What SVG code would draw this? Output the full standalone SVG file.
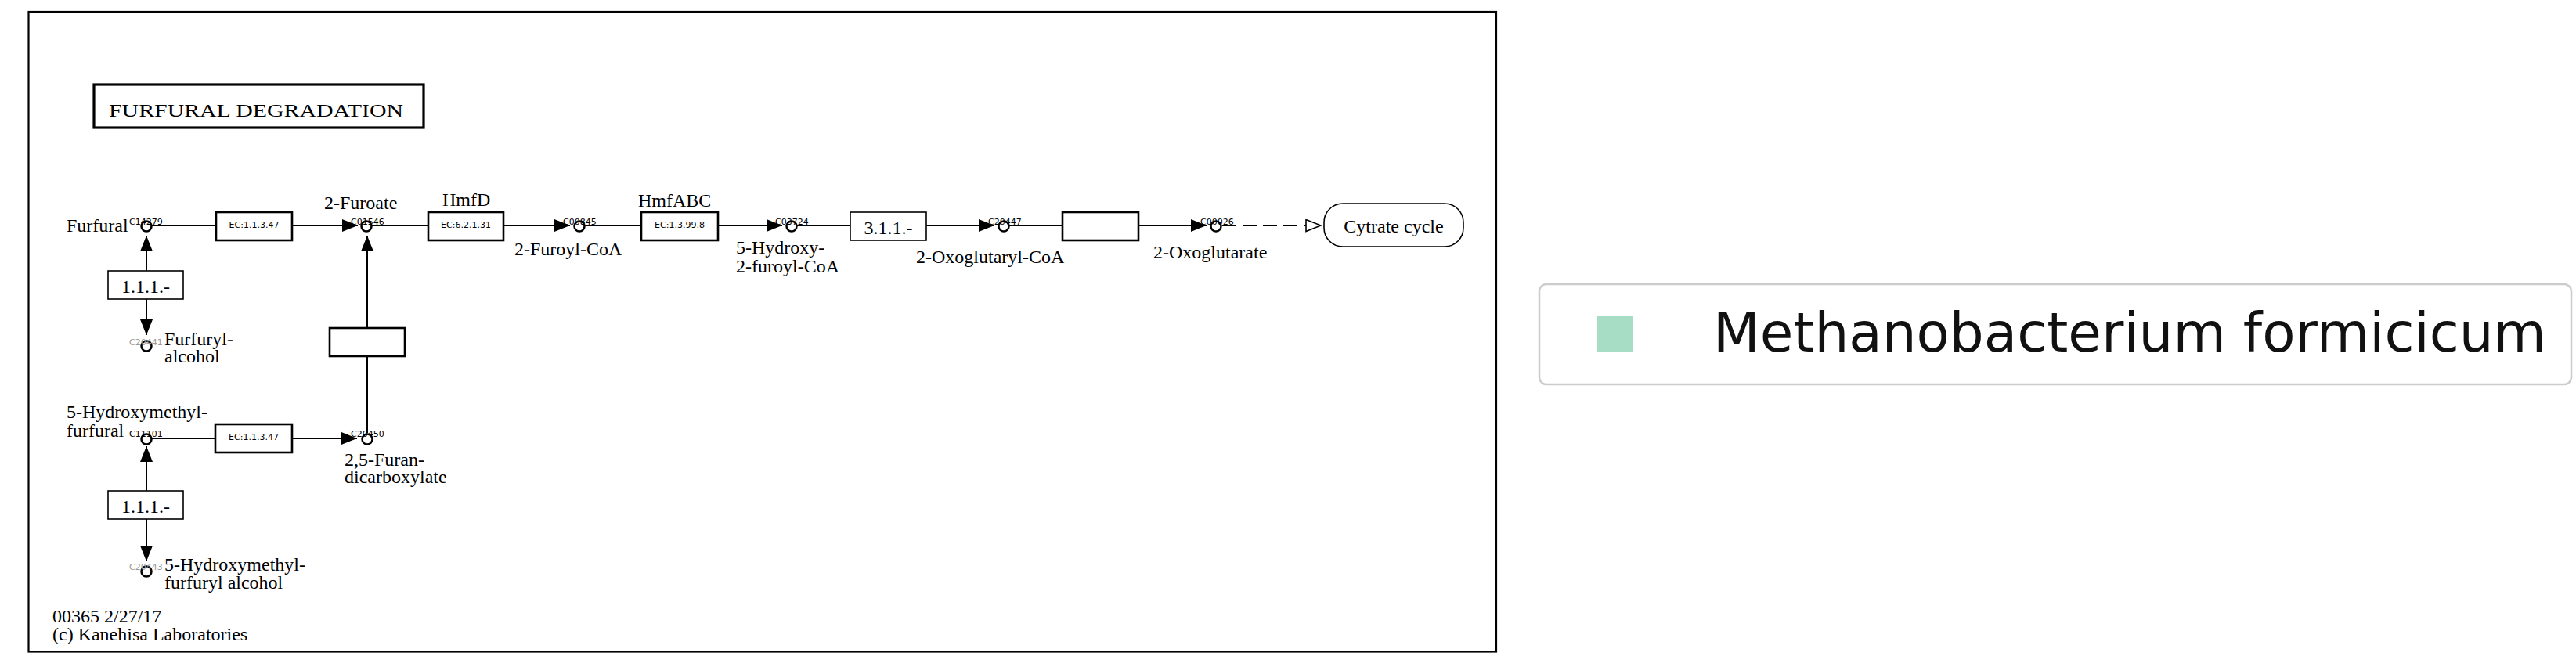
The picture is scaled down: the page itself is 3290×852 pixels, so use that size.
<svg xmlns="http://www.w3.org/2000/svg" width="3290" height="852" viewBox="0 0 3290 852">
<style>
.t{font-family:"Liberation Serif","Times New Roman",serif;font-size:24px;fill:#000}
.c{font-family:"DejaVu Sans",sans-serif;font-size:11px;fill:#000}
.cg{fill:#9a9a9a}
.ec{font-family:"DejaVu Sans",sans-serif;font-size:11px;fill:#000;text-anchor:middle}
.cpd{fill:#fff;stroke:#000;stroke-width:2.5}
.enz{fill:#fff;stroke:#000;stroke-width:2.6}
.enz2{fill:#fff;stroke:#000;stroke-width:1.6}
.ln{stroke:#000;stroke-width:2;fill:none}
.dash{stroke:#000;stroke-width:2;fill:none;stroke-dasharray:18 8}
</style>
<defs>
<marker id="ah" markerUnits="userSpaceOnUse" markerWidth="20" markerHeight="16" viewBox="0 0 20 16" refX="20" refY="8" orient="auto">
<path d="M0,0 L20,8 L0,16 Z" fill="#000"/>
</marker>
<marker id="oah" markerUnits="userSpaceOnUse" markerWidth="22" markerHeight="18" viewBox="-1 -1 22 18" refX="19" refY="7.5" orient="auto">
<path d="M0,0 L19,7.5 L0,15 Z" fill="#fff" stroke="#000" stroke-width="1.6"/>
</marker>
</defs>
<rect width="3290" height="852" fill="#fff"/>
<rect id="frame" x="36.5" y="15" width="1874.5" height="817.5" fill="none" stroke="#000" stroke-width="2.2"/>

<g id="title">
<rect x="120" y="108" width="421" height="55" fill="#fff" stroke="#000" stroke-width="3.2"/>
<text class="t" x="139" y="149" font-size="30" textLength="376" lengthAdjust="spacingAndGlyphs">FURFURAL DEGRADATION</text>
</g>

<g id="connectors">
<line class="ln" x1="194" y1="288" x2="276" y2="288"/>
<line class="ln" x1="373" y1="288" x2="457" y2="288" marker-end="url(#ah)"/>
<line class="ln" x1="475" y1="288" x2="547" y2="288"/>
<line class="ln" x1="643" y1="288" x2="728" y2="288" marker-end="url(#ah)"/>
<line class="ln" x1="747" y1="288" x2="819" y2="288"/>
<line class="ln" x1="917" y1="288" x2="999" y2="288" marker-end="url(#ah)"/>
<line class="ln" x1="1018" y1="288" x2="1086" y2="288"/>
<line class="ln" x1="1183" y1="288" x2="1270" y2="288" marker-end="url(#ah)"/>
<line class="ln" x1="1289" y1="288" x2="1357" y2="288"/>
<line class="ln" x1="1454" y1="288" x2="1541" y2="288" marker-end="url(#ah)"/>
<line class="dash" x1="1561" y1="288" x2="1687" y2="288" marker-end="url(#oah)"/>
<line class="ln" x1="187" y1="346" x2="187" y2="301" marker-end="url(#ah)"/>
<line class="ln" x1="187" y1="382" x2="187" y2="428" marker-end="url(#ah)"/>
<line class="ln" x1="469" y1="419" x2="469" y2="301" marker-end="url(#ah)"/>
<line class="ln" x1="469" y1="553" x2="469" y2="455"/>
<line class="ln" x1="194" y1="560" x2="275" y2="560"/>
<line class="ln" x1="373" y1="560" x2="456" y2="560" marker-end="url(#ah)"/>
<line class="ln" x1="187" y1="627" x2="187" y2="570" marker-end="url(#ah)"/>
<line class="ln" x1="187" y1="663" x2="187" y2="717" marker-end="url(#ah)"/>
</g>

<g id="enz_1_1_3_47_a">
<rect class="enz" x="276" y="271" width="97" height="36"/>
<text class="ec" x="324.5" y="291">EC:1.1.3.47</text>
</g>
<g id="enz_6_2_1_31">
<text class="t" x="565" y="263">HmfD</text>
<rect class="enz" x="547" y="271" width="96" height="36"/>
<text class="ec" x="595" y="291">EC:6.2.1.31</text>
</g>
<g id="enz_1_3_99_8">
<text class="t" x="815" y="264">HmfABC</text>
<rect class="enz" x="819" y="271" width="98" height="36"/>
<text class="ec" x="868" y="291">EC:1.3.99.8</text>
</g>
<g id="enz_3_1_1">
<rect class="enz2" x="1086" y="271" width="97" height="36"/>
<text class="t" x="1134.5" y="299" text-anchor="middle">3.1.1.-</text>
</g>
<g id="enz_blank_a">
<rect class="enz" x="1357" y="271" width="97" height="36"/>
</g>
<g id="enz_1_1_1_a">
<rect class="enz2" x="138" y="346" width="96" height="36"/>
<text class="t" x="186" y="374" text-anchor="middle">1.1.1.-</text>
</g>
<g id="enz_blank_b">
<rect class="enz" x="421" y="419" width="96" height="36"/>
</g>
<g id="enz_1_1_3_47_b">
<rect class="enz" x="275" y="542" width="98" height="36"/>
<text class="ec" x="324" y="562">EC:1.1.3.47</text>
</g>
<g id="enz_1_1_1_b">
<rect class="enz2" x="138" y="627" width="96" height="36"/>
<text class="t" x="186" y="655" text-anchor="middle">1.1.1.-</text>
</g>

<g id="C14279">
<circle class="cpd" cx="187" cy="289" r="6.5"/>
<text class="c" x="165" y="287">C14279</text>
<text class="t" x="85" y="296">Furfural</text>
</g>
<g id="C01546">
<circle class="cpd" cx="468" cy="289" r="6.5"/>
<text class="c" x="448" y="287">C01546</text>
<text class="t" x="414" y="267">2-Furoate</text>
</g>
<g id="C00845">
<circle class="cpd" cx="740" cy="289" r="6.5"/>
<text class="c" x="719" y="287">C00845</text>
<text class="t" x="657" y="326">2-Furoyl-CoA</text>
</g>
<g id="C03724">
<circle class="cpd" cx="1011" cy="289" r="6.5"/>
<text class="c" x="990" y="287">C03724</text>
<text class="t" x="940" y="324">5-Hydroxy-</text>
<text class="t" x="940" y="348">2-furoyl-CoA</text>
</g>
<g id="C20447">
<circle class="cpd" cx="1282" cy="289" r="6.5"/>
<text class="c" x="1262" y="287">C20447</text>
<text class="t" x="1170" y="336">2-Oxoglutaryl-CoA</text>
</g>
<g id="C00026">
<circle class="cpd" cx="1553" cy="289" r="6.5"/>
<text class="c" x="1533" y="287">C00026</text>
<text class="t" x="1473" y="330">2-Oxoglutarate</text>
</g>
<g id="map_citrate">
<rect x="1691" y="260" width="178" height="55" rx="24" ry="24" fill="#fff" stroke="#000" stroke-width="1.6"/>
<text class="t" x="1780" y="297" text-anchor="middle">Cytrate cycle</text>
</g>
<g id="C20441">
<circle class="cpd" cx="187" cy="442" r="6.5"/>
<text class="c cg" x="165" y="441">C20441</text>
<text class="t" x="210" y="441">Furfuryl-</text>
<text class="t" x="210" y="463">alcohol</text>
</g>
<g id="C11101">
<circle class="cpd" cx="187" cy="561" r="6.5"/>
<text class="c" x="165" y="558">C11101</text>
<text class="t" x="85" y="534">5-Hydroxymethyl-</text>
<text class="t" x="85" y="558">furfural</text>
</g>
<g id="C20450">
<circle class="cpd" cx="469" cy="561" r="6.5"/>
<text class="c" x="448" y="558">C20450</text>
<text class="t" x="440" y="595">2,5-Furan-</text>
<text class="t" x="440" y="617">dicarboxylate</text>
</g>
<g id="C20443">
<circle class="cpd" cx="187" cy="730" r="6.5"/>
<text class="c cg" x="165" y="728">C20443</text>
<text class="t" x="210" y="729">5-Hydroxymethyl-</text>
<text class="t" x="210" y="752">furfuryl alcohol</text>
</g>
<g id="footer">
<text class="t" x="67" y="795">00365 2/27/17</text>
<text class="t" x="67" y="818">(c) Kanehisa Laboratories</text>
</g>

<g id="legend">
<rect x="1966" y="363" width="1318" height="128" rx="9" ry="9" fill="#fff" stroke="#cccccc" stroke-width="2.5"/>
<rect x="2040" y="404" width="45" height="45" fill="#a8ddc5"/>
<text x="2188" y="449" font-family="DejaVu Sans, sans-serif" font-size="69" fill="#111" textLength="1064" lengthAdjust="spacingAndGlyphs">Methanobacterium formicicum</text>
</g>
</svg>
